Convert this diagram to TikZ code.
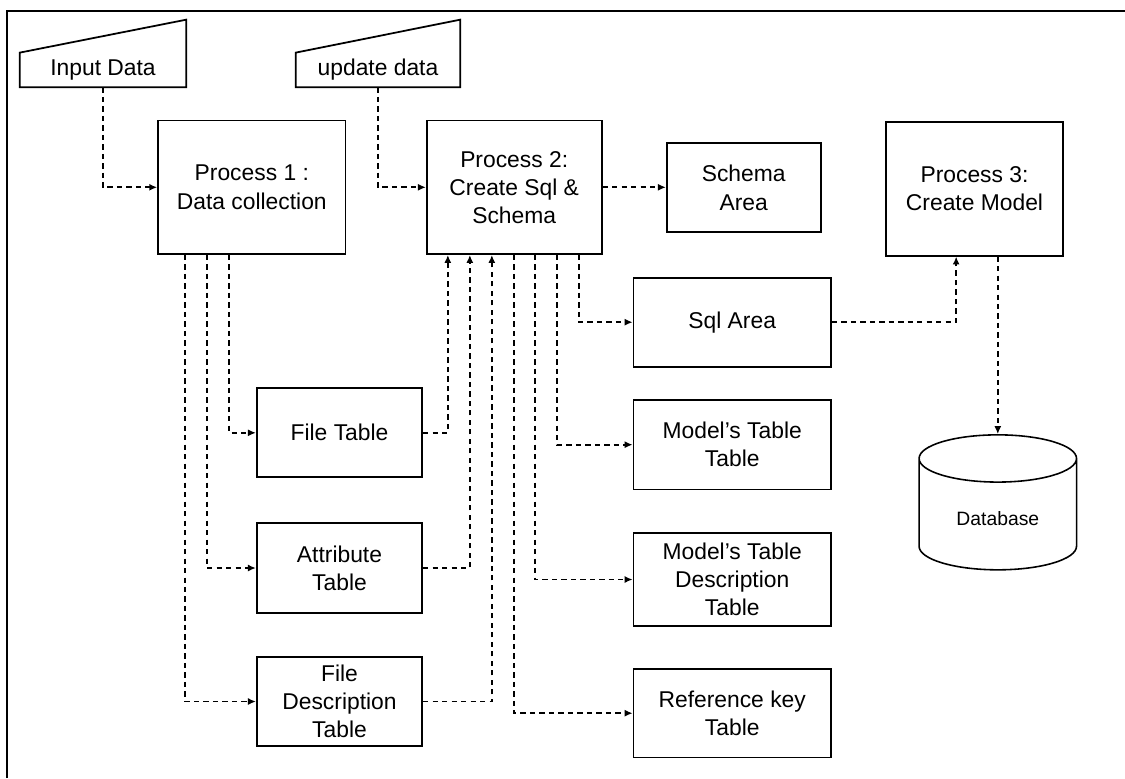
\documentclass[tikz,border=0pt]{standalone}
\usepackage{fontspec}
\setmainfont{Liberation Sans}
\usepackage{tikz}
\usetikzlibrary{arrows.meta, calc, shapes.geometric}
\tikzset{
  pbox/.style={rectangle, draw, line width=1pt, align=center,
               font=\fontsize{13}{16}\selectfont, inner sep=2pt},
  inbox/.style={rectangle, align=center, inner sep=0pt,
                font=\fontsize{13}{16}\selectfont,
                minimum height=0.68cm},
  shp/.style={line width=1pt, line join=miter},
  dbs/.style={cylinder, shape border rotate=90, aspect=0.5, draw,
              line width=0.9pt, minimum width=3.15cm, minimum height=2.7cm,
              font=\fontsize{11}{13}\selectfont},
  arr/.style={-{Latex[length=4.5pt,width=4pt]}, line width=1pt,
              dash pattern=on 3pt off 2.4pt},
}

\begin{document}
\begin{tikzpicture}[x=0.02cm, y=-0.02cm]
  \useasboundingbox (0,0) rectangle (1125,778);
  \draw[line width=1.2pt] (7,778) -- (7,11) -- (1125,11);

  % ── Inputs ────────────────────────────────────────────────────────────────
  \node[inbox, minimum width=3.32cm] at (103,70) (inp) {Input Data};
  \node[inbox, minimum width=3.28cm] at (378,70) (upd) {update data};
  \draw[shp] (inp.south west) -- (inp.north west)
      -- ($(inp.north east)+(0,-33)$) -- (inp.south east) -- cycle;
  \draw[shp] (upd.south west) -- (upd.north west)
      -- ($(upd.north east)+(0,-33)$) -- (upd.south east) -- cycle;

  % ── Processes ─────────────────────────────────────────────────────────────
  \node[pbox, minimum width=3.75cm, minimum height=2.67cm] at (251.8,187.3) (p1)
      {Process 1 :\\Data collection};
  \node[pbox, minimum width=3.50cm, minimum height=2.67cm] at (514.2,187.3) (p2)
      {Process 2:\\Create Sql \&\\Schema};
  \node[pbox, minimum width=3.08cm, minimum height=1.78cm] at (743.7,187.8) (sch)
      {Schema\\Area};
  \node[pbox, minimum width=3.54cm, minimum height=2.68cm] at (974.5,188.7) (p3)
      {Process 3:\\Create Model};

  % ── Collected tables ──────────────────────────────────────────────────────
  \node[pbox, minimum width=3.31cm, minimum height=1.78cm] at (339.5,432.8) (ft)
      {File Table};
  \node[pbox, minimum width=3.31cm, minimum height=1.81cm] at (339.5,568.0) (at)
      {Attribute\\Table};
  \node[pbox, minimum width=3.31cm, minimum height=1.77cm] at (339.5,701.5) (fd)
      {File\\Description\\Table};

  % ── Generated areas ───────────────────────────────────────────────────────
  \node[pbox, minimum width=3.95cm, minimum height=1.78cm] at (732.2,322.2) (sql)
      {Sql Area};
  \node[pbox, minimum width=3.95cm, minimum height=1.79cm] at (732.2,444.7) (mt)
      {Model's Table\\Table};
  \node[pbox, minimum width=3.95cm, minimum height=1.85cm] at (732.2,579.5) (mtd)
      {Model's Table\\Description\\Table};
  \node[pbox, minimum width=3.95cm, minimum height=1.77cm] at (732.2,713.2) (ref)
      {Reference key\\Table};

  \node[dbs] at (997.8,519) (db) {Database};

  % ── Arrows ────────────────────────────────────────────────────────────────
  \draw[arr] (inp.south) |- (p1.west);
  \draw[arr] (upd.south) |- (p2.west);
  \draw[arr] (p2.east) -- (p2.east -| sch.west);

  \draw[arr] ($(p1.south west)+(72,0)$) |- (ft.west);
  \draw[arr] ($(p1.south west)+(50,0)$) |- (at.west);
  \draw[arr] ($(p1.south west)+(28,0)$) |- (fd.west);

  \draw[arr] (ft.east) -| ($(p2.south west)+(22,0)$);
  \draw[arr] (at.east) -| ($(p2.south west)+(44,0)$);
  \draw[arr] (fd.east) -| ($(p2.south west)+(66,0)$);

  \draw[arr] ($(p2.south west)+(153,0)$) |- (sql.west);
  \draw[arr] ($(p2.south west)+(131,0)$) |- (mt.west);
  \draw[arr] ($(p2.south west)+(109,0)$) |- (mtd.west);
  \draw[arr] ($(p2.south west)+(88,0)$)  |- (ref.west);

  \draw[arr] (sql.east) -| ($(p3.south west)+(71,0)$);
  \draw[arr] (db.top |- p3.south) -- (db.top);
\end{tikzpicture}
\end{document}
